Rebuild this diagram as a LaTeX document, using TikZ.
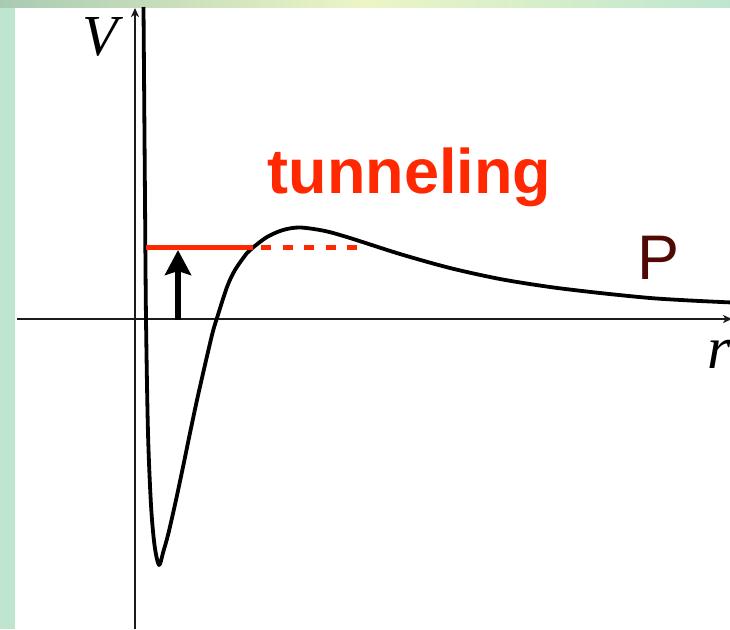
\documentclass[tikz,border=0pt]{standalone}
\usepackage{fontspec}
\setmainfont{Liberation Sans}
\newfontfamily\timesfont{Liberation Serif}
\usetikzlibrary{arrows.meta}
\definecolor{bggreen}{HTML}{BEE6CF}
\definecolor{bgdark}{HTML}{A9CBB2}
\definecolor{bgyellow}{HTML}{ECF5C6}
\definecolor{tunred}{HTML}{FF2800}
\definecolor{pmaroon}{HTML}{500A05}
\definecolor{axisgray}{HTML}{1C1C1C}
\tikzset{
  axisline/.style={draw=axisgray, line width=1.8pt, -{Stealth[length=9pt,width=8pt,inset=2.5pt]}},
  potcurve/.style={draw=black, line width=3.8pt, line join=round},
  levelline/.style={draw=tunred, line width=5pt},
  leveldash/.style={draw=tunred, line width=5pt, dash pattern=on 10pt off 11.5pt},
  uparrow/.style={draw=black, line width=6.5pt, -{Stealth[length=25pt,width=26pt,inset=4pt]}},
  lab/.style={inner sep=0pt, anchor=base},
}
\begin{document}
\begin{tikzpicture}[x=1pt, y=-1pt]
\useasboundingbox (0,0) rectangle (730,629);
% background
\fill[bggreen] (0,0) rectangle (730,629);
\shade[left color=bgdark, right color=bggreen, middle color=bgyellow] (0,0) rectangle (730,7.5);
\fill[bggreen] (0,7.5) rectangle (15,629);
\fill[white] (15,7.5) rectangle (730,629);
% coordinates
\coordinate (vb) at (135,629);
\coordinate (vt) at (135,8);
\coordinate (rl) at (17,319);
\coordinate (rr) at (732,319);
\coordinate (e0) at (146,247);
\coordinate (e1) at (253,247);
\coordinate (e2) at (261,247);
\coordinate (e3) at (358,247);
\coordinate (a0) at (178,319.5);
\coordinate (a1) at (178,250);
% axes
\draw[axisline] (vb) -- (vt);
\draw[axisline] (rl) -- (rr);
% potential curve
\draw[potcurve] plot[smooth, tension=0.5] coordinates {
 (143.5,7) (145,200) (146,319) (148,433) (151,505) (154.5,545) (159,565)
 (163.5,551) (168.5,533) (176,500) (183,467) (190,433) (197,400) (204.5,367) (212.5,333) (217,318)
 (227,287) (235,270) (247,253) (253,247.5) (267,237) (283,230) (300,227.5) (325,231) (350,238) (400,254) (450,268)
 (500,279) (550,287) (600,293) (650,298) (690,300.5) (732,302.5)};
% energy level
\draw[levelline] (e0) -- (e1);
\draw[leveldash] (e2) -- (e3);
% arrow
\draw[uparrow] (a0) -- (a1);
% labels
\node[lab] (vlab) at (100,55) {\timesfont\itshape\fontsize{58}{58}\selectfont V};
\node[lab] (rlab) at (719,368) {\timesfont\itshape\fontsize{60}{60}\selectfont r};
\node[lab, text=tunred] (tun) at (409.5,193) {\bfseries\fontsize{63}{63}\selectfont tunneling};
\node[lab, text=pmaroon] (plab) at (659,279) {\fontsize{63}{63}\selectfont P};
\end{tikzpicture}
\end{document}
